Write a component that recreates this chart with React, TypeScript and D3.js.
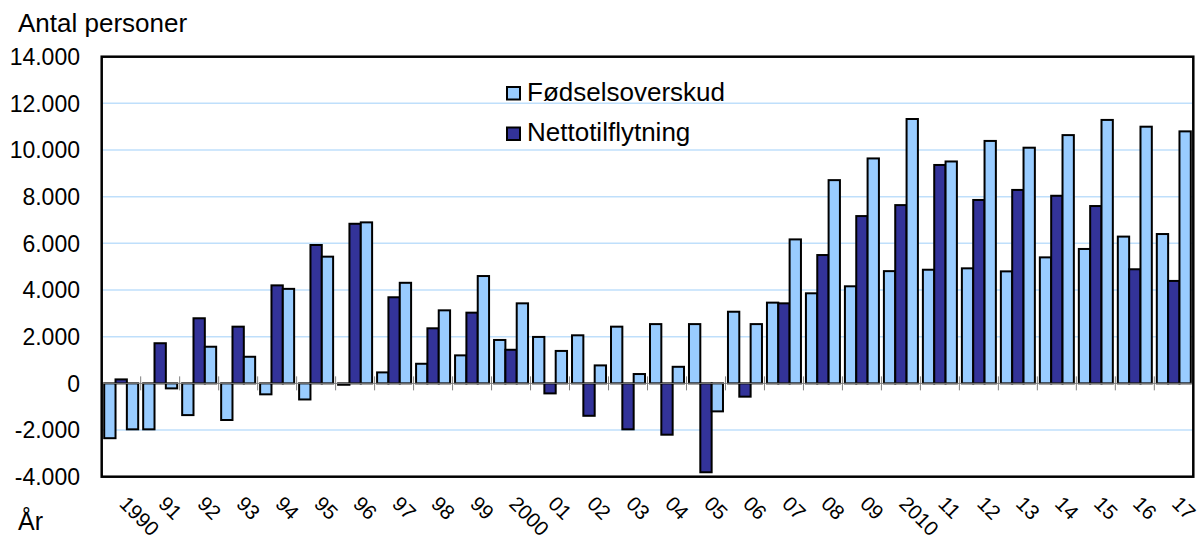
import { useEffect, useRef } from 'react'
import * as d3 from 'd3'

// values (persons per year)
const years = [
  '1990', '1991', '1992', '1993', '1994', '1995', '1996', '1997', '1998', '1999',
  '2000', '2001', '2002', '2003', '2004', '2005', '2006', '2007', '2008', '2009',
  '2010', '2011', '2012', '2013', '2014', '2015', '2016', '2017',
]
const yearLabels = [
  '1990', '91', '92', '93', '94', '95', '96', '97', '98', '99',
  '2000', '01', '02', '03', '04', '05', '06', '07', '08', '09',
  '2010', '11', '12', '13', '14', '15', '16', '17',
]
const foedselsoverskud = [
  -2350, -1970, -1360, -1570, -470, -690, -60, 470, 840, 1200,
  1860, 1990, 2060, 2430, 2540, 2540, 3070, 3460, 3860, 4160,
  4810, 4870, 4930, 4800, 5400, 5760, 6290, 6400,
]
const nettotilflytning = [
  170, 1720, 2790, 2430, 4200, 5930, 6840, 3690, 2360, 3030,
  1440, -430, -1390, -1970, -2200, -3810, -570, 3430, 5500, 7170,
  7640, 9360, 7860, 8290, 8040, 7600, 4890, 4390,
]
const befolkningstilvaekst = [
  -1970, -215, 1570, 1140, 4050, 5430, 6900, 4310, 3130, 4600,
  3430, 1390, 770, 400, 710, -1200, 2540, 6170, 8710, 9640,
  11330, 9510, 10390, 10100, 10640, 11290, 11000, 10800,
]
const yTicks = [-4000, -2000, 0, 2000, 4000, 6000, 8000, 10000, 12000, 14000]

const LIGHT = '#99CCFF'
const DARK = '#333399'

export default function App() {
  const svgRef = useRef<SVGSVGElement | null>(null)

  useEffect(() => {
    if (!svgRef.current) return

    const width = 1200
    const height = 539
    const left = 101.7
    const right = 1193.3
    const top = 56.7
    const bottom = 476.7

    d3.select(svgRef.current).selectAll('*').remove()

    const svg = d3
      .select(svgRef.current)
      .attr('width', width)
      .attr('height', height)
      .style('font-family', 'Liberation Sans, Arial, sans-serif')

    const series = [
      { key: 'foed', values: foedselsoverskud, color: LIGHT },
      { key: 'netto', values: nettotilflytning, color: DARK },
      { key: 'total', values: befolkningstilvaekst, color: LIGHT },
    ]

    const x0 = d3.scaleBand<string>().domain(years).range([left, right]).padding(0)
    const x1 = d3
      .scaleBand<string>()
      .domain(series.map(s => s.key))
      .range([0, x0.bandwidth()])
      .paddingInner(0)
      .paddingOuter(0.22)
    const y = d3.scaleLinear().domain([-4000, 14000]).range([bottom, top])

    const locale = d3.formatLocale({
      decimal: ',',
      thousands: '.',
      grouping: [3],
      currency: ['', ''],
      minus: '-',
    })
    const fmt = locale.format(',')

    // gridlines
    svg
      .append('g')
      .selectAll('line')
      .data(yTicks.filter(t => t !== 0 && t !== 14000 && t !== -4000))
      .enter()
      .append('line')
      .attr('x1', left)
      .attr('x2', right)
      .attr('y1', d => y(d))
      .attr('y2', d => y(d))
      .attr('stroke', '#BFDFFB')
      .attr('stroke-width', 1.5)

    // bars
    series.forEach(s => {
      svg
        .append('g')
        .selectAll('rect')
        .data(s.values)
        .enter()
        .append('rect')
        .attr('x', (d, i) => (x0(years[i]) as number) + (x1(s.key) as number))
        .attr('y', d => y(Math.max(0, d)))
        .attr('width', x1.bandwidth())
        .attr('height', d => Math.abs(y(d) - y(0)))
        .attr('fill', s.color)
        .attr('stroke', '#000')
        .attr('stroke-width', 2)
    })

    // category axis at zero
    const y0 = y(0)
    svg
      .append('line')
      .attr('x1', left)
      .attr('x2', right)
      .attr('y1', y0)
      .attr('y2', y0)
      .attr('stroke', '#808080')
      .attr('stroke-width', 1)
    svg
      .append('g')
      .selectAll('line')
      .data(years.slice(1))
      .enter()
      .append('line')
      .attr('x1', d => x0(d) as number)
      .attr('x2', d => x0(d) as number)
      .attr('y1', y0 - 7)
      .attr('y2', y0 + 7)
      .attr('stroke', '#808080')
      .attr('stroke-width', 1)

    // plot border
    svg
      .append('rect')
      .attr('x', left)
      .attr('y', top)
      .attr('width', right - left)
      .attr('height', bottom - top)
      .attr('fill', 'none')
      .attr('stroke', '#000')
      .attr('stroke-width', 2.5)

    // y tick labels
    svg
      .append('g')
      .selectAll('text')
      .data(yTicks)
      .enter()
      .append('text')
      .attr('x', 80)
      .attr('y', d => y(d))
      .attr('dy', '0.36em')
      .attr('text-anchor', 'end')
      .style('font-size', '23px')
      .text(d => fmt(d))

    // x tick labels, rotated
    svg
      .append('g')
      .selectAll('text')
      .data(years)
      .enter()
      .append('text')
      .attr('transform', d => {
        const cx = (x0(d) as number) + x0.bandwidth() / 2 - 3
        return `translate(${cx}, 505) rotate(45)`
      })
      .attr('text-anchor', 'start')
      .style('font-size', '20.5px')
      .text((d, i) => yearLabels[i])

    // titles
    svg
      .append('text')
      .attr('x', 18)
      .attr('y', 32)
      .style('font-size', '26px')
      .text('Antal personer')

    svg
      .append('text')
      .attr('x', 18)
      .attr('y', 530)
      .style('font-size', '25px')
      .text('År')

    // legend
    const legend = [
      { label: 'Fødselsoverskud', color: LIGHT },
      { label: 'Nettotilflytning', color: DARK },
    ]
    const lg = svg.append('g').attr('transform', 'translate(507, 87)')
    legend.forEach((d, i) => {
      const item = lg.append('g').attr('transform', `translate(0, ${i * 40.5})`)
      item
        .append('rect')
        .attr('width', 13)
        .attr('height', 12.5)
        .attr('fill', d.color)
        .attr('stroke', '#000')
        .attr('stroke-width', 2)
      item
        .append('text')
        .attr('x', 20)
        .attr('y', 13.5)
        .style('font-size', '26px')
        .text(d.label)
    })
  }, [])

  return (
    <div style={{ position: 'absolute', left: 0, top: 0 }}>
      <svg ref={svgRef} style={{ display: 'block' }}></svg>
    </div>
  )
}
